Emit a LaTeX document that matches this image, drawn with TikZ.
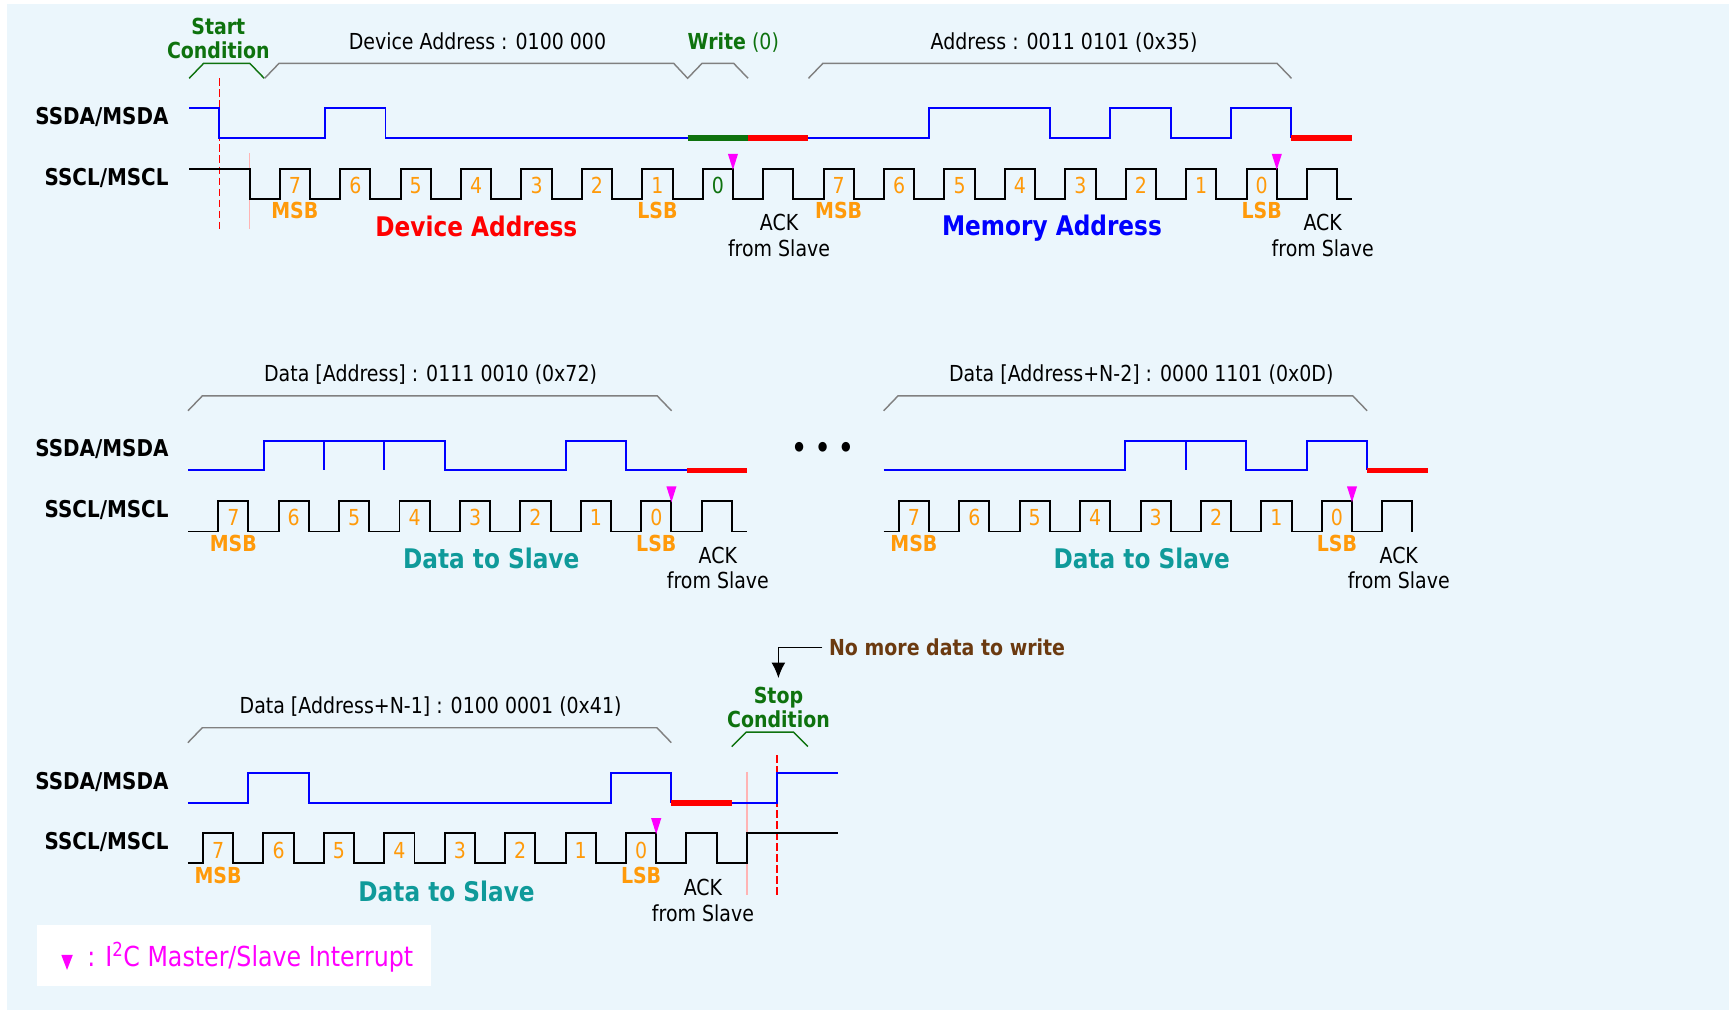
\documentclass[tikz,border=0pt]{standalone}
\usepackage{fontspec}
\setmainfont{DejaVu Sans}[FakeStretch=0.86]
\usetikzlibrary{arrows.meta}
\definecolor{bgblue}{HTML}{EBF6FC}
\definecolor{condgreen}{HTML}{0E720E}
\definecolor{bitorange}{HTML}{FF9A0A}
\definecolor{slaveteal}{HTML}{0F9A9A}
\definecolor{nomore}{HTML}{6B3A10}
\definecolor{pinkline}{HTML}{FFB4B4}
\definecolor{irqpink}{HTML}{FF00FF}
\begin{document}
\begin{tikzpicture}[x=1pt,y=-1pt,
  sda/.style={blue,line width=1.8pt},
  scl/.style={black,line width=1.8pt},
  ackbar/.style={red,line width=5pt},
  wbar/.style={condgreen,line width=5pt},
  brace/.style={gray,line width=1.3pt},
  condbrace/.style={condgreen,line width=1.3pt},
  sig/.style={font=\fontsize{21}{24}\selectfont\bfseries,anchor=east,inner sep=0pt},
  bitno/.style={bitorange,font=\fontsize{20}{24}\selectfont},
  sbit/.style={bitorange,font=\fontsize{20}{24}\selectfont\bfseries},
  lbl/.style={font=\fontsize{20}{24}\selectfont},
  ack/.style={font=\fontsize{20}{23}\selectfont,align=center},
  cond/.style={condgreen,font=\fontsize{20}{22}\selectfont\bfseries,align=center},
  big/.style={font=\fontsize{24.5}{28}\selectfont\bfseries},
  irq/.style={fill=irqpink},
  startline/.style={red,dashed,dash pattern=on 7pt off 3pt,line width=1.3pt},
  clkline/.style={pinkline,line width=1.2pt}
]
  %background
  \fill[white] (0,0) rectangle (1568,916);
  \fill[bgblue] (6.3,3.5) rectangle (1568,916);

  %signal names
  \foreach \r/\dy in {1/0,2/301.5,3/603}{
    \node[sig] (sda\r) at (153,106+\dy) {SSDA/MSDA};
    \node[sig] (scl\r) at (153,161+\dy) {SSCL/MSCL};
  }

  %%% row 1: start, device address, memory address
  \node[cond] (start) at (198,35) {Start\\Condition};
  \draw[condbrace] (171.6,71) -- (184.6,57.5) -- (226.6,57.5) -- (239.6,71);
  \draw[brace] (240,71) -- (253,57.5) -- (611,57.5) -- (623.6,71) -- (636.6,57.5) -- (665.4,57.5) -- (678.4,71);
  \draw[brace] (733.2,71) -- (746.2,57.5) -- (1158.2,57.5) -- (1171.2,71);
  \node[lbl] (devtxt) at (433,37) {Device Address : 0100 000};
  \node[lbl,condgreen] (wrtxt) at (665,38.5) {\textbf{Write} (0)};
  \node[lbl] (adrtxt) at (965,38.5) {Address : 0011 0101 (0x35)};

  \draw[clkline] (226.3,139) -- (226.3,208);
  \draw[startline] (198.9,71) -- (198.9,208);

  \draw[sda] (171.6,98) -- (198.9,98) -- (198.9,125) -- (294.8,125) -- (294.8,98) -- (349.6,98)
    -- (349.6,125) -- (623.6,125);
  \draw[wbar] (623.6,125) -- (678.4,125);
  \draw[ackbar] (678.4,125) -- (733.2,125);
  \draw[sda] (733.2,125) -- (842.8,125) -- (842.8,98) -- (952,98) -- (952,125) -- (1006.8,125)
    -- (1006.8,98) -- (1061.6,98) -- (1061.6,125) -- (1116.4,125) -- (1116.4,98) -- (1171.2,98)
    -- (1171.2,125);
  \draw[ackbar] (1171.2,125) -- (1226,125);

  \draw[scl] (171.6,153) -- (226.3,153) -- (226.3,180.5)
    \foreach \k in {0,...,17}{ -- ({253.7+54.8*\k},180.5) -- ++(0,-27.5) -- ++(27.4,0) -- ++(0,27.5) }
    -- (1226.4,180.5);

  \foreach \n [count=\k from 0] in {7,...,1}
    \node[bitno] (da\n) at ({267.4+54.8*\k},168) {\n};
  \node[lbl,condgreen] (da0) at (651,168) {0};
  \foreach \n [count=\k from 9] in {7,...,0}
    \node[bitno] (ma\n) at ({267.4+54.8*\k},168) {\n};
  \node[sbit] (msb1) at (267.4,191) {MSB};
  \node[sbit] (lsb1) at (596.2,191) {LSB};
  \node[sbit] (msb2) at (760.6,191) {MSB};
  \node[sbit] (lsb2) at (1144.2,191) {LSB};
  \node[ack] (ack1) at (706.5,213.5) {ACK\\from Slave};
  \node[ack] (ack2) at (1199.5,213.5) {ACK\\from Slave};
  \node[big,red] (devaddr) at (432,205) {Device Address};
  \node[big,blue] (memaddr) at (954,206.5) {Memory Address};
  \fill[irq] (664.7,154) -- ++(-4.6,-14.5) -- ++(9.2,0) -- cycle;
  \fill[irq] (1157.9,154) -- ++(-4.6,-14.5) -- ++(9.2,0) -- cycle;

  %%% row 2 left: data [address]
  \draw[brace] (170.5,372.5) -- (183.5,359) -- (596,359) -- (609,372.5);
  \node[lbl] (d1txt) at (390.5,339.5) {Data [Address] : 0111 0010 (0x72)};
  \draw[sda] (170.5,426.5) -- (239,426.5) -- (239,399.5) -- (403.4,399.5) -- (403.4,426.5)
    -- (513,426.5) -- (513,399.5) -- (567.8,399.5) -- (567.8,426.5) -- (622.6,426.5);
  \draw[sda] (293.8,399.5) -- (293.8,426.5) (348.6,399.5) -- (348.6,426.5);
  \draw[ackbar] (622.6,426.5) -- (677.4,426.5);
  \draw[scl] (170.5,482)
    \foreach \k in {0,...,8}{ -- ({197.9+54.8*\k},482) -- ++(0,-27.5) -- ++(27.4,0) -- ++(0,27.5) }
    -- (677.4,482);
  \foreach \n [count=\k from 0] in {7,...,0}
    \node[bitno] (db\n) at ({211.6+54.8*\k},469.5) {\n};
  \node[sbit] (msb3) at (211.6,492.5) {MSB};
  \node[sbit] (lsb3) at (595.2,492.5) {LSB};
  \node[ack] (ack3) at (651,515) {ACK\\from Slave};
  \node[big,slaveteal] (dts1) at (445.5,506.5) {Data to Slave};
  \fill[irq] (608.9,455.5) -- ++(-4.6,-14.5) -- ++(9.2,0) -- cycle;

  \node[font=\fontsize{25}{28}\selectfont\bfseries] (dots) at (746,408) {• • •};

  %%% row 2 right: data [address+N-2]
  \draw[brace] (801.4,372.5) -- (814.4,359) -- (1226.8,359) -- (1239.8,372.5);
  \node[lbl] (d2txt) at (1035,340) {Data [Address+N-2] : 0000 1101 (0x0D)};
  \draw[sda] (801.4,426.5) -- (1020.6,426.5) -- (1020.6,399.5) -- (1130.2,399.5) -- (1130.2,426.5)
    -- (1185,426.5) -- (1185,399.5) -- (1239.8,399.5) -- (1239.8,426.5);
  \draw[sda] (1075.4,399.5) -- (1075.4,426.5);
  \draw[ackbar] (1239.8,426.5) -- (1294.6,426.5);
  \draw[scl] (801.4,482)
    \foreach \k in {0,...,8}{ -- ({815.1+54.8*\k},482) -- ++(0,-27.5) -- ++(27.4,0) -- ++(0,27.5) };
  \foreach \n [count=\k from 0] in {7,...,0}
    \node[bitno] (dc\n) at ({828.8+54.8*\k},469.5) {\n};
  \node[sbit] (msb4) at (828.8,492.5) {MSB};
  \node[sbit] (lsb4) at (1212.4,492.5) {LSB};
  \node[ack] (ack4) at (1268.5,515) {ACK\\from Slave};
  \node[big,slaveteal] (dts2) at (1035.4,506.5) {Data to Slave};
  \fill[irq] (1226.1,455.5) -- ++(-4.6,-14.5) -- ++(9.2,0) -- cycle;

  %%% row 3: data [address+N-1], stop
  \draw[brace] (170.4,673.5) -- (183.4,660) -- (595.8,660) -- (608.8,673.5);
  \node[lbl] (d3txt) at (390.5,641) {Data [Address+N-1] : 0100 0001 (0x41)};
  \draw[clkline] (677.3,700) -- (677.3,811.6);
  \draw[startline] (704.7,684.7) -- (704.7,811.6);
  \draw[sda] (170.4,728) -- (225.2,728) -- (225.2,701) -- (280,701) -- (280,728) -- (554,728)
    -- (554,701) -- (608.8,701) -- (608.8,728);
  \draw[ackbar] (608.8,728) -- (663.6,728);
  \draw[sda] (663.6,728) -- (704.7,728) -- (704.7,701) -- (760,701);
  \draw[scl] (170.4,783)
    \foreach \k in {0,...,8}{ -- ({184.1+54.8*\k},783) -- ++(0,-27.5) -- ++(27.4,0) -- ++(0,27.5) }
    -- (677.3,783) -- (677.3,755.5) -- (760,755.5);
  \foreach \n [count=\k from 0] in {7,...,0}
    \node[bitno] (dd\n) at ({197.8+54.8*\k},771) {\n};
  \node[sbit] (msb5) at (197.8,794) {MSB};
  \node[sbit] (lsb5) at (581.4,794) {LSB};
  \node[ack] (ack5) at (637.5,816.5) {ACK\\from Slave};
  \node[big,slaveteal] (dts3) at (405,808) {Data to Slave};
  \fill[irq] (595.1,756.5) -- ++(-4.6,-14.5) -- ++(9.2,0) -- cycle;

  \node[cond] (stop) at (706,641.5) {Stop\\Condition};
  \draw[condbrace] (663.6,677) -- (676.6,664) -- (719.6,664) -- (732.6,677);
  \node[lbl,nomore,font=\fontsize{20}{24}\selectfont\bfseries,anchor=west,inner sep=0pt] (nomoretxt) at (751.7,587) {No more data to write};
  \coordinate (stoptip) at (705.9,615);
  \draw[line width=1.4pt,-{Latex[length=14pt,width=12.5pt]}] ([xshift=-6pt]nomoretxt.west) -| (stoptip);

  %legend
  \fill[white] (33.6,839) rectangle (391,894);
  \fill[irq] (55.6,866) -- (66,866) -- (60.8,879.6) -- cycle;
  \node[irqpink,font=\fontsize{25}{28}\selectfont,anchor=base west,inner sep=0pt] (irqtxt) at (79,876.6) {: I\textsuperscript{2}C Master/Slave Interrupt};
\end{tikzpicture}
\end{document}
